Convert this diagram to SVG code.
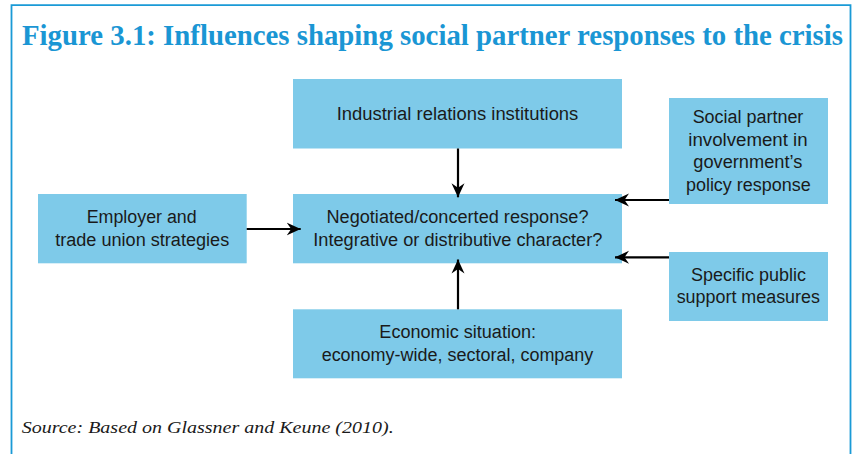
<svg xmlns="http://www.w3.org/2000/svg" width="853" height="454" viewBox="0 0 853 454">
<defs>
<style>
.box{fill:#7ecae9;}
.lbl{font-family:"Liberation Sans",Arial,sans-serif;font-size:18px;fill:#1a1a1a;text-anchor:middle;}
.title{font-family:"Liberation Serif","Times New Roman",serif;font-weight:bold;font-size:29px;fill:#1a96d4;}
.src{font-family:"Liberation Serif","Times New Roman",serif;font-style:italic;font-size:17px;fill:#1a1a1a;}
.conn{stroke:#000;stroke-width:2.2;fill:none;marker-end:url(#ah);}
</style>
<marker id="ah" markerUnits="userSpaceOnUse" markerWidth="16" markerHeight="14" refX="14" refY="7" orient="auto">
<path d="M14,7 L0,0.5 L4.5,7 L0,13.5 Z" fill="#000"/>
</marker>
</defs>
<rect width="853" height="454" fill="#fff"/>
<path d="M11.5,460 V5.2 H850.5 V460" fill="none" stroke="#1a9ad6" stroke-width="1.8"/>
<text class="title" x="22" y="45" textLength="821" lengthAdjust="spacingAndGlyphs">Figure 3.1: Influences shaping social partner responses to the crisis</text>

<g id="industrial">
<rect class="box" x="293" y="79" width="329" height="69.5"/>
<text class="lbl" x="457.5" y="120" textLength="241.7" lengthAdjust="spacingAndGlyphs">Industrial relations institutions</text>
</g>
<g id="center">
<rect class="box" x="293" y="194" width="329" height="69.3"/>
<text class="lbl" x="457.5" y="223.3" textLength="262" lengthAdjust="spacingAndGlyphs">Negotiated/concerted response?</text>
<text class="lbl" x="457.8" y="246" textLength="289" lengthAdjust="spacingAndGlyphs">Integrative or distributive character?</text>
</g>
<g id="employer">
<rect class="box" x="38" y="194" width="208.7" height="69.3"/>
<text class="lbl" x="141.7" y="223.3" textLength="110" lengthAdjust="spacingAndGlyphs">Employer and</text>
<text class="lbl" x="142.2" y="245.7" textLength="174" lengthAdjust="spacingAndGlyphs">trade union strategies</text>
</g>
<g id="economic">
<rect class="box" x="293" y="309.3" width="329" height="69"/>
<text class="lbl" x="457.7" y="338.3" textLength="156.7" lengthAdjust="spacingAndGlyphs">Economic situation:</text>
<text class="lbl" x="457.5" y="361" textLength="271.7" lengthAdjust="spacingAndGlyphs">economy-wide, sectoral, company</text>
</g>
<g id="social">
<rect class="box" x="669" y="98" width="159" height="106"/>
<text class="lbl" x="748" y="123.3" textLength="110.7" lengthAdjust="spacingAndGlyphs">Social partner</text>
<text class="lbl" x="748" y="145.7" textLength="119.3" lengthAdjust="spacingAndGlyphs">involvement in</text>
<text class="lbl" x="747.8" y="168.2" textLength="109" lengthAdjust="spacingAndGlyphs">government’s</text>
<text class="lbl" x="748.3" y="191" textLength="124.7" lengthAdjust="spacingAndGlyphs">policy response</text>
</g>
<g id="public">
<rect class="box" x="669" y="252" width="159" height="69"/>
<text class="lbl" x="748.5" y="281" textLength="115" lengthAdjust="spacingAndGlyphs">Specific public</text>
<text class="lbl" x="748.3" y="303.3" textLength="143.3" lengthAdjust="spacingAndGlyphs">support measures</text>
</g>

<g id="connectors">
<line class="conn" x1="458" y1="148.5" x2="458" y2="197.3"/>
<line class="conn" x1="458" y1="309.3" x2="458" y2="259.5"/>
<line class="conn" x1="246.7" y1="229" x2="300.7" y2="229"/>
<line class="conn" x1="669" y1="200" x2="615" y2="200"/>
<line class="conn" x1="669" y1="257.3" x2="615" y2="257.3"/>
</g>

<text class="src" x="21.7" y="433.3" textLength="372" lengthAdjust="spacingAndGlyphs">Source: Based on Glassner and Keune (2010).</text>
</svg>
